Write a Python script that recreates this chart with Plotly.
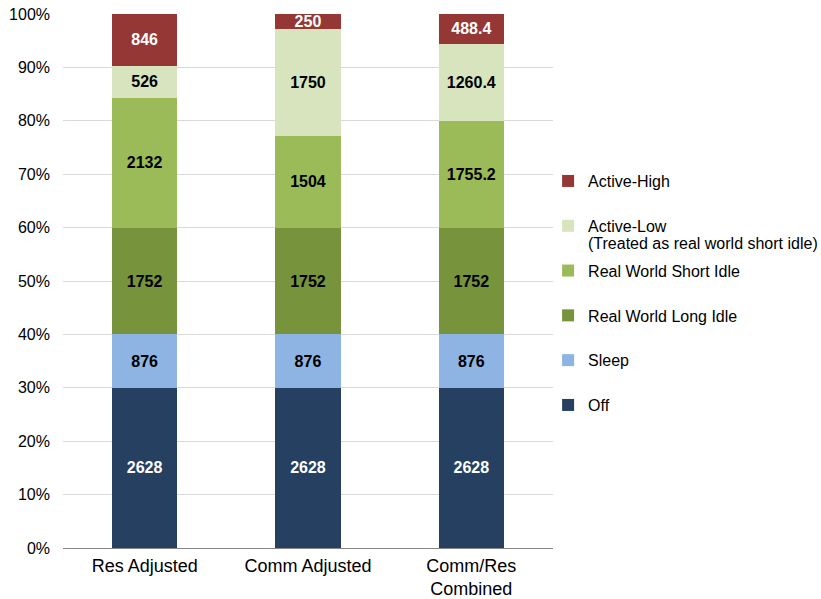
import plotly.graph_objects as go

categories = ["Res Adjusted", "Comm Adjusted", "Comm/Res<br>Combined"]

off = [2628, 2628, 2628]
sleep = [876, 876, 876]
long_idle = [1752, 1752, 1752]
short_idle = [2132, 1504, 1755.2]
active_low = [526, 1750, 1260.4]
active_high = [846, 250, 488.4]

series_names = ["Off", "Sleep", "Real World Long Idle", "Real World Short Idle",
                "Active-Low", "Active-High"]
series_values = [off, sleep, long_idle, short_idle, active_low, active_high]
series_colors = ["#254061", "#8EB4E3", "#77933C", "#9BBB59", "#D7E4BD", "#953735"]
label_colors = ["white", "black", "black", "black", "black", "white"]

FONT = "Liberation Sans, Arial, sans-serif"

fig = go.Figure()
n = len(series_names)
for i, (name, vals, col, lc) in enumerate(zip(series_names, series_values, series_colors, label_colors)):
    fig.add_trace(go.Bar(
        x=categories, y=vals, name=name,
        marker=dict(color=col, line=dict(width=0)),
        text=[f"{v:g}" for v in vals],
        textposition="inside", insidetextanchor="middle", textangle=0,
        textfont=dict(family=FONT, size=16, color=lc, weight="bold"),
        legendgroup=name, legendrank=n - i,
        hoverinfo="skip",
    ))

fig.update_layout(
    width=821, height=599,
    margin=dict(l=63, r=268, t=14, b=51),
    barmode="stack", barnorm="percent", bargap=0.6,
    plot_bgcolor="white", paper_bgcolor="white",
    font=dict(family=FONT, size=16, color="#000000"),
    uniformtext=dict(minsize=16, mode="show"),
    showlegend=True,
    legend=dict(
        traceorder="grouped", tracegroupgap=21,
        x=0.990, xanchor="left", y=0.719, yanchor="top",
        font=dict(family=FONT, size=16, color="#000000"),
        bgcolor="rgba(0,0,0,0)",
    ),
    xaxis=dict(
        showgrid=False, ticks="", showline=False, automargin=False,
        tickfont=dict(family=FONT, size=18, color="#000000"),
        ticklabelstandoff=5,
    ),
    yaxis=dict(
        range=[0, 100], dtick=10, ticksuffix="%", automargin=False,
        showgrid=True, gridcolor="#D9D9D9", gridwidth=1,
        zeroline=True, zerolinecolor="#868686", zerolinewidth=1,
        showline=False, ticks="",
        tickfont=dict(family=FONT, size=16, color="#000000"),
        ticklabelstandoff=12,
    ),
    annotations=[dict(
        text="(Treated as real world short idle)",
        xref="paper", yref="paper", x=1.0714, y=0.571, xanchor="left", yanchor="middle",
        showarrow=False, font=dict(family=FONT, size=16, color="#000000"),
        xshift=-2,
    )],
)

fig.write_html("out.html")
